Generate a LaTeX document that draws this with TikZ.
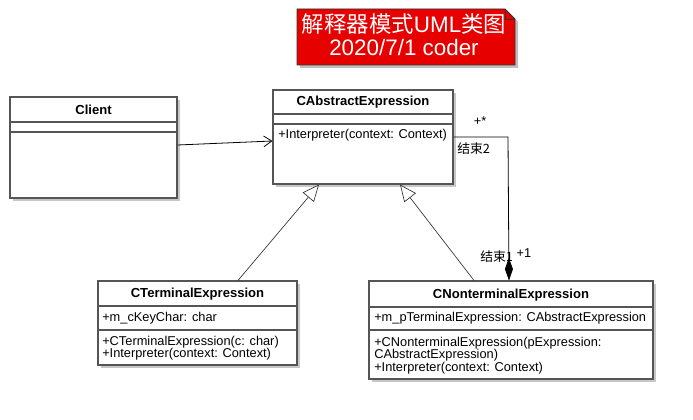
\documentclass[tikz,border=0pt]{standalone}
\usepackage{fontspec}
\setmainfont{Liberation Sans}
\newfontfamily\cjk{Noto Sans CJK SC}
\usetikzlibrary{arrows.meta, positioning, fit, shadows}
\definecolor{notered}{HTML}{E60000}
\definecolor{boxline}{HTML}{555555}

\begin{document}
\begin{tikzpicture}[
    x=0.75pt, y=-0.75pt,
    classbox/.style={rectangle, draw=boxline, fill=white, line width=0.8pt, inner sep=0pt,
      drop shadow={shadow xshift=2pt, shadow yshift=-2pt, fill=black!22, opacity=1}},
    sep/.style={draw=boxline, line width=0.8pt},
    title/.style={font=\fontsize{9.8}{11}\selectfont\bfseries, inner sep=0pt},
    member/.style={font=\fontsize{9.6}{9.2}\selectfont, inner sep=0pt, anchor=west, align=left},
    lbl/.style={font=\fontsize{9.6}{10}\selectfont, inner sep=0pt},
    assoc/.style={-{Straight Barb[length=6pt, width=8pt]}, line width=0.6pt},
    gen/.style={-{Triangle[open, length=12.5pt, width=11pt, fill=white]}, line width=0.5pt, draw=black!80},
    compos/.style={-{Diamond[length=17pt, width=6pt]}, line width=0.6pt}
]
\useasboundingbox (0,0) rectangle (693,420);

% Note
\fill[black!25] (300,12) -- (508,12) -- (518,22) -- (518,68) -- (300,68) -- cycle;
\draw[fill=notered, draw=black!80, line width=0.6pt] (297,9) -- (505,9) -- (515,19) -- (515,65) -- (297,65) -- cycle;
\draw[draw=black!80, line width=0.6pt] (505,9) -- (505,19) -- (515,19);
\node[text=white, align=center, font=\fontsize{16.8}{17.5}\selectfont, inner sep=0pt] (note) at (404,35)
  {{\cjk 解释器模式}UML{\cjk 类图}\\2020/7/1 coder};

% Classes
\node[classbox, fit={(10,97) (177,198)}] (client) {};
\node[title] (clientname) at (93.5,110) {Client};
\draw[sep] (10,122) -- (177,122);
\draw[sep] (10,132) -- (177,132);

\node[classbox, fit={(273,90) (453,184)}] (abs) {};
\node[title] (absname) at (363,102) {CAbstractExpression};
\draw[sep] (273,114) -- (453,114);
\draw[sep] (273,124) -- (453,124);
\node[member] (absop) at (278,135) {+Interpreter(context: Context)};

\node[classbox, fit={(98,281) (297,365)}] (term) {};
\node[title] (termname) at (197.5,294) {CTerminalExpression};
\draw[sep] (98,306) -- (297,306);
\draw[sep] (98,330) -- (297,330);
\node[member] (termattr) at (102,318) {+m\_cKeyChar: char};
\node[member, anchor=north west] (termop) at (102,336)
  {+CTerminalExpression(c: char)\\+Interpreter(context: Context)};

\node[classbox, fit={(369,281) (653,379)}] (nonterm) {};
\node[title] (nontermname) at (511,295) {CNonterminalExpression};
\draw[sep] (369,307) -- (653,307);
\draw[sep] (369,330) -- (653,330);
\node[member] (nontermattr) at (374,318) {+m\_pTerminalExpression: CAbstractExpression};
\node[member, anchor=north west] (nontermop) at (374,337)
  {+CNonterminalExpression(pExpression:\\CAbstractExpression)\\+Interpreter(context: Context)};

% Connectors
\draw[assoc] (client.east |- 0,145) -- (abs.west |- 0,141);
\draw[gen] (238,0 |- term.north) -- (319,0 |- abs.south);
\draw[gen] (474,0 |- nonterm.north) -- (400,0 |- abs.south);
\draw[compos] (abs.east |- 0,137) -- (508,137) -- (509,0 |- nonterm.north);

% Role labels
\node[lbl] (mstar) at (480,121) {+*};
\node[lbl, anchor=west] (end2) at (457,149) {\cjk 结束2};
\node[lbl, anchor=west] (end1) at (480,257) {\cjk 结束1};
\node[lbl] (mone) at (524,253) {+1};

\end{tikzpicture}
\end{document}
